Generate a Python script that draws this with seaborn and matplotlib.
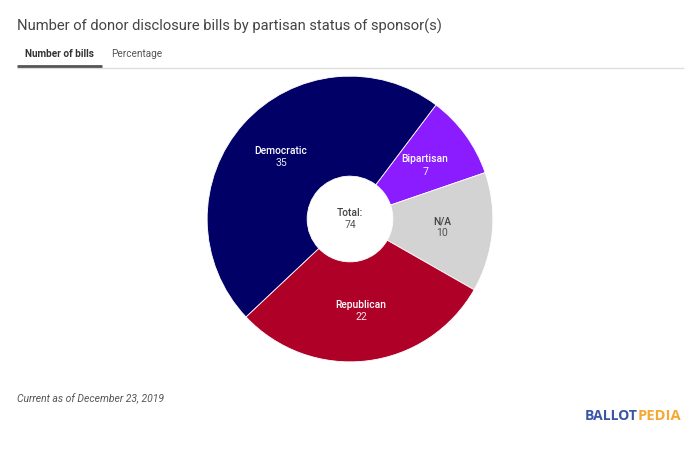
import matplotlib
matplotlib.use("Agg")
import matplotlib.pyplot as plt
from matplotlib.lines import Line2D
import seaborn as sns

categories = ["Bipartisan", "N/A", "Republican", "Democratic"]
values = [7, 10, 22, 35]
colors = ["#8A1CFF", "#D3D3D3", "#AF0028", "#000066"]
label_colors = ["white", "#444444", "white", "white"]
total_label = "Total:"
total_value = 74

sns.set_theme(style="white")
plt.rcParams['font.family'] = ['Roboto', 'DejaVu Sans']

W, H = 700, 450
fig = plt.figure(figsize=(W / 100, H / 100), dpi=100, facecolor="white")

cx, cy, half = 350, 219, 150
ax = fig.add_axes([(cx - half) / W, (H - cy - half) / H, 2 * half / W, 2 * half / H])
wedges, _ = ax.pie(values, colors=colors, startangle=53, counterclock=False,
                   radius=1.0, wedgeprops=dict(width=0.70, linewidth=0.6, edgecolor="white"))
ax.set_xlim(-1.05, 1.05)
ax.set_ylim(-1.05, 1.05)
ax.set_aspect("equal")
ax.axis("off")

def px(x, y):
    return x / W, 1 - y / H

label_pos = {"Democratic": (281, 151.5), "Bipartisan": (425, 159.5), "N/A": (442, 221.5), "Republican": (361, 305)}
for name, val, col in zip(categories, values, label_colors):
    x, y = label_pos[name]
    fig.text(*px(x, y), name, color=col, fontsize=7.4, fontweight="medium", ha="center", va="center")
    fig.text(*px(x, y + 12), str(val), color=col, fontsize=7.6, ha="center", va="center", alpha=0.9)

fig.text(*px(350, 213), total_label, color="#444444", fontsize=7.4, fontweight="medium", ha="center", va="center")
fig.text(*px(350, 225.5), str(total_value), color="#555555", fontsize=7.6, ha="center", va="center")

fig.text(*px(17, 26), "Number of donor disclosure bills by partisan status of sponsor(s)",
         color="#444444", fontsize=10.65, ha="left", va="center")
fig.text(*px(25, 54), "Number of bills", color="#333333", fontsize=7.2, fontweight="bold", ha="left", va="center")
fig.text(*px(111, 54), "Percentage", color="#555555", fontsize=7.2, ha="left", va="center")

def hline(x0, x1, y, color, lw):
    fig.add_artist(Line2D([x0 / W, x1 / W], [1 - y / H, 1 - y / H], color=color, lw=lw,
                          solid_capstyle="butt", transform=fig.transFigure))

hline(17, 684, 67.5, "#DDDDDD", 0.9)
hline(17, 102, 66, "#555555", 2.0)

fig.text(*px(17, 398.5), "Current as of December 23, 2019", color="#555555", fontsize=7.45,
         style="italic", ha="left", va="center")

fig.text(*px(585, 416), "BALLOT", color="#3B55A5", fontsize=10, fontweight="bold",
         ha="left", va="center", family=["Open Sans", "DejaVu Sans"])
fig.text(*px(638, 416), "PEDIA", color="#F5A833", fontsize=10.6, fontweight="bold",
         ha="left", va="center", family=["Open Sans", "DejaVu Sans"])

fig.savefig("out.png", dpi=100, facecolor="white")
